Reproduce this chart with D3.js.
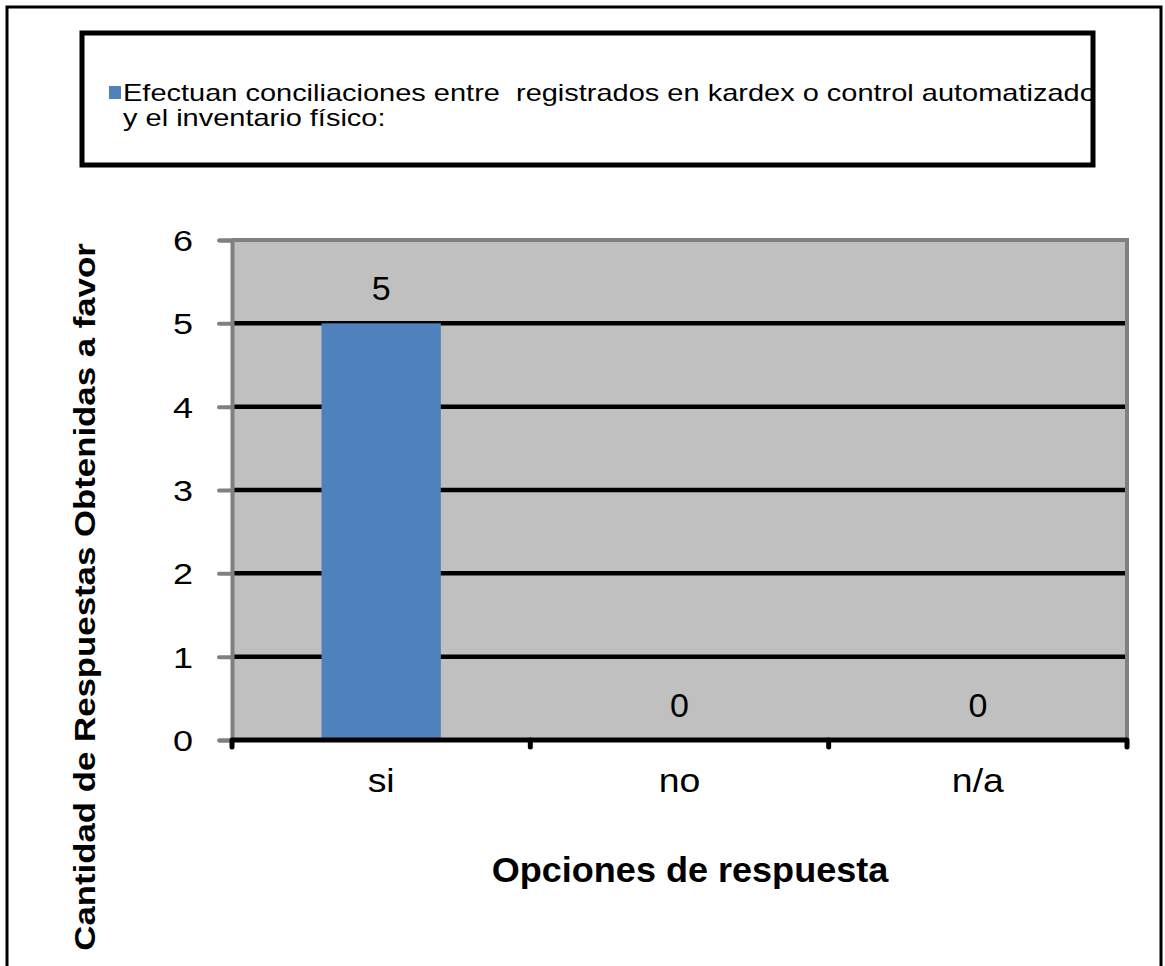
<!DOCTYPE html>
<html>
<head>
<meta charset="utf-8">
<script src="https://cdn.jsdelivr.net/npm/d3@7/dist/d3.min.js"></script>
<style>
  html, body { margin: 0; padding: 0; background: #fff; }
  svg { display: block; font-family: "Liberation Sans", Arial, sans-serif; }
</style>
</head>
<body>
<svg id="chart" width="1165" height="966"></svg>
<script>
// Survey answers: how many respondents chose each option
const categories = ["si", "no", "n/a"];
const values = [5, 0, 0];
const yTicks = [0, 1, 2, 3, 4, 5, 6];
const seriesName = ["Efectuan conciliaciones entre  registrados en kardex o control automatizado", "y el inventario físico:"];
const xTitle = "Opciones de respuesta";
const yTitle = "Cantidad de Respuestas Obtenidas a favor";

const svg = d3.select("#chart");
const plot = { left: 232, right: 1127, top: 240, bottom: 740 };

// text drawn with a slightly widened face
function wideText(parent, x, y, str, size, sx, anchor, weight, rot) {
  return parent.append("text")
    .attr("transform", `translate(${x},${y})${rot ? ` rotate(${rot})` : ""} scale(${sx},1)`)
    .attr("text-anchor", anchor || "start")
    .attr("font-size", size)
    .attr("font-weight", weight || "normal")
    .attr("fill", "#000")
    .style("white-space", "pre")
    .text(str);
}

// outer chart frame (bottom edge runs past the page)
svg.append("rect")
  .attr("x", 7).attr("y", 7).attr("width", 1154).attr("height", 1000)
  .attr("fill", "#fff").attr("stroke", "#000").attr("stroke-width", 3);

// legend box
const lg = { x: 82, y: 33, w: 1011, h: 132 };
svg.append("defs").append("clipPath").attr("id", "legclip")
  .append("rect").attr("x", lg.x).attr("y", lg.y).attr("width", lg.w - 2).attr("height", lg.h);
svg.append("rect")
  .attr("x", lg.x).attr("y", lg.y).attr("width", lg.w).attr("height", lg.h)
  .attr("fill", "#fff").attr("stroke", "#000").attr("stroke-width", 5);
svg.append("rect")
  .attr("x", 109).attr("y", 86).attr("width", 12).attr("height", 13)
  .attr("fill", "#4f81bd");
const legText = svg.append("g").attr("clip-path", "url(#legclip)");
seriesName.forEach((line, i) => {
  wideText(legText, 123, 101 + i * 25, line, 23, 1.26);
});

const x = d3.scaleBand().domain(categories).range([plot.left, plot.right]).paddingInner(0).paddingOuter(0);
const y = d3.scaleLinear().domain([0, 6]).range([plot.bottom, plot.top]);

// plot area
svg.append("rect")
  .attr("x", plot.left).attr("y", plot.top)
  .attr("width", plot.right - plot.left).attr("height", plot.bottom - plot.top)
  .attr("fill", "#c0c0c0");

// gridlines
svg.append("g").selectAll("line")
  .data(yTicks.filter(t => t > 0 && t < 6))
  .join("line")
  .attr("x1", plot.left).attr("x2", plot.right)
  .attr("y1", d => y(d)).attr("y2", d => y(d))
  .attr("stroke", "#000").attr("stroke-width", 4.5);

// plot border (top and right)
svg.append("path")
  .attr("d", `M${plot.left},${plot.top}H${plot.right}V${plot.bottom}`)
  .attr("fill", "none").attr("stroke", "#808080").attr("stroke-width", 4);

// bars
const barW = x.bandwidth() * 0.4;
svg.append("g").selectAll("rect")
  .data(values)
  .join("rect")
  .attr("x", (d, i) => x(categories[i]) + (x.bandwidth() - barW) / 2)
  .attr("y", d => y(d))
  .attr("width", barW)
  .attr("height", d => y(0) - y(d))
  .attr("fill", "#4f81bd");

// value labels
const vl = svg.append("g");
values.forEach((v, i) => {
  wideText(vl, x(categories[i]) + x.bandwidth() / 2, y(v) - 23, String(v), 34, 1.0, "middle");
});

// y axis
const yAxis = svg.append("g")
  .attr("transform", `translate(${plot.left},0)`)
  .call(d3.axisLeft(y).tickValues(yTicks).tickSize(13).tickPadding(14).tickFormat(() => ""));
yAxis.select(".domain").attr("stroke", "#808080").attr("stroke-width", 4);
yAxis.selectAll(".tick line").attr("stroke", "#808080").attr("stroke-width", 4).attr("stroke-linecap", "round");
const yl = svg.append("g");
yTicks.forEach(t => {
  wideText(yl, 193, y(t) + 11, d3.format("d")(t), 30, 1.2, "end");
});

// x axis
const xEdges = categories.map(c => x(c)).concat([plot.right]);
const xAxis = svg.append("g");
xAxis.append("line")
  .attr("x1", plot.left).attr("x2", plot.right)
  .attr("y1", plot.bottom).attr("y2", plot.bottom)
  .attr("stroke", "#000").attr("stroke-width", 5);
xAxis.selectAll("line.tk")
  .data(xEdges)
  .join("line").attr("class", "tk")
  .attr("x1", d => d).attr("x2", d => d)
  .attr("y1", plot.bottom).attr("y2", plot.bottom + 7)
  .attr("stroke", "#000").attr("stroke-width", 5).attr("stroke-linecap", "round");
categories.forEach(c => {
  wideText(xAxis, x(c) + x.bandwidth() / 2, 792, c, 34, 1.1, "middle");
});

// axis titles
wideText(svg, 690, 882, xTitle, 35, 1.03, "middle", "bold");
wideText(svg, 95, 597, yTitle, 30, 1.16, "middle", "bold", -90);
</script>
</body>
</html>
